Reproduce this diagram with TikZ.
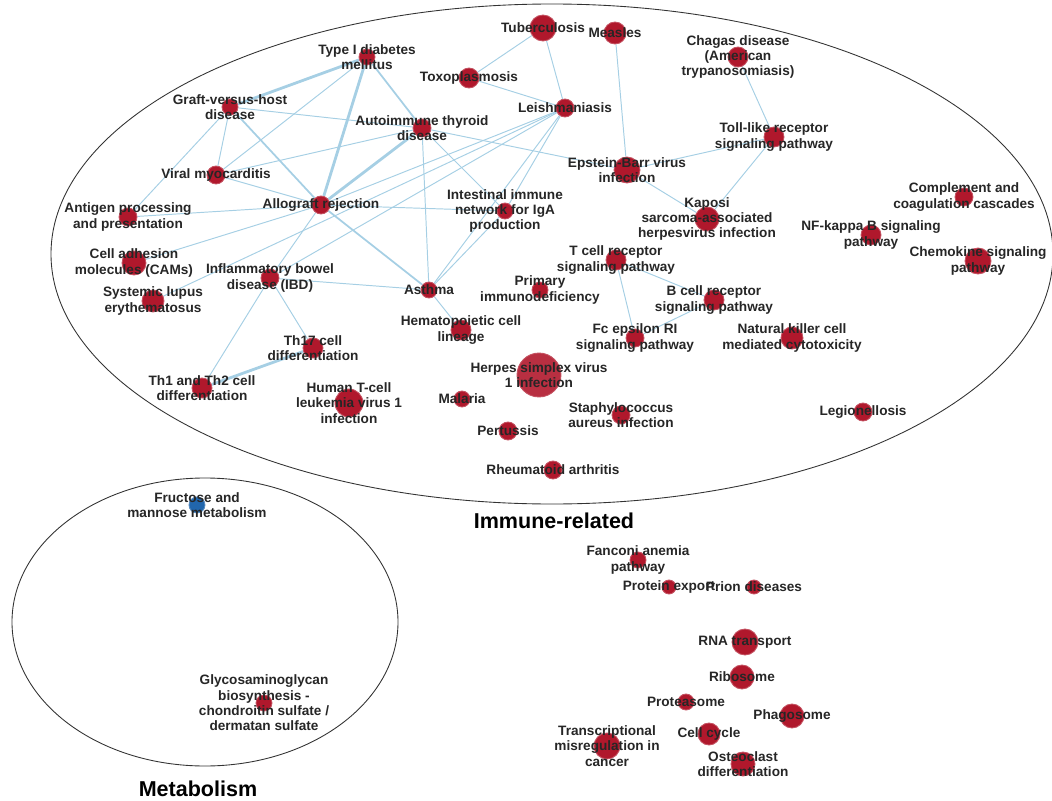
\documentclass[tikz,border=0pt]{standalone}
\usepackage{fontspec}
\setmainfont{Liberation Sans}
\usetikzlibrary{backgrounds}
\definecolor{pwred}{RGB}{176,24,44}
\definecolor{pwblue}{RGB}{33,102,172}
\definecolor{linkblue}{RGB}{166,207,228}
\definecolor{txtgray}{RGB}{38,38,38}

\tikzset{
  pw/.style = {circle, fill=pwred, draw=pwred!75!white, line width=0.5pt,
               inner sep=0pt, minimum size=#1*0.04cm},
  lbl/.style = {inner sep=0pt, align=center, text=txtgray,
                font=\bfseries\fontsize{7.75}{8.7}\selectfont},
  link/.style = {draw=linkblue, line width=0.55pt},
  midlink/.style = {draw=linkblue, line width=1pt},
  thicklink/.style = {draw=linkblue, line width=1.6pt},
  group/.style = {draw=black!80, line width=0.5pt},
  grouplbl/.style = {font=\bfseries\fontsize{12.25}{14}\selectfont, text=black}
}

\begin{document}
\begin{tikzpicture}[x=0.02cm, y=-0.02cm]
\useasboundingbox (0,0) rectangle (1052,801);

% groups
\draw[group] (552,254) ellipse [x radius=501, y radius=250];
\draw[group] (205,622) ellipse [x radius=193, y radius=144];
\node[grouplbl] (immune) at (554,521) {Immune-related};
\node[grouplbl] (metab) at (198,789) {Metabolism};

% immune-related pathways
\node[pw=8, label={[lbl]center:Type I diabetes\\mellitus}] (typeone) at (367,57) {};
\node[pw=8, label={[lbl]center:Graft-versus-host\\disease}] (gvhd) at (230,107) {};
\node[pw=9, label={[lbl]center:Autoimmune thyroid\\disease}] (aitd) at (422,128) {};
\node[pw=9, label={[lbl]center:Viral myocarditis}] (viralmyo) at (216,175) {};
\node[pw=9, label={[lbl]center:Allograft rejection}] (allograft) at (321,205) {};
\node[pw=9, label={[lbl]center:Antigen processing\\and presentation}] (antigen) at (128,217) {};
\node[pw=13, label={[lbl]center:Tuberculosis}] (tuberculosis) at (543,28) {};
\node[pw=11, label={[lbl]center:Measles}] (measles) at (615,33) {};
\node[pw=10, label={[lbl]center:Chagas disease\\(American\\trypanosomiasis)}] (chagas) at (738,57) {};
\node[pw=10, label={[lbl]center:Toxoplasmosis}] (toxo) at (469,78) {};
\node[pw=9, label={[lbl]center:Leishmaniasis}] (leish) at (565,108) {};
\node[pw=10, label={[lbl]center:Toll-like receptor\\signaling pathway}] (tlr) at (774,137) {};
\node[pw=13, label={[lbl]center:Epstein-Barr virus\\infection}] (ebv) at (627,170) {};
\node[pw=8, label={[lbl]center:Intestinal immune\\network for IgA\\production}] (iga) at (505,211) {};
\node[pw=12, label={[lbl]center:Kaposi\\sarcoma-associated\\herpesvirus infection}] (kshv) at (707,219) {};
\node[pw=12, label={[lbl]center:Cell adhesion\\molecules (CAMs)}] (cams) at (134,263) {};
\node[pw=9, label={[lbl]center:Inflammatory bowel\\disease (IBD)}] (ibd) at (270,278) {};
\node[pw=11, label={[lbl]center:Systemic lupus\\erythematosus}] (sle) at (153,301) {};
\node[pw=8, label={[lbl]center:Asthma}] (asthma) at (429,290) {};
\node[pw=10, label={[lbl]center:T cell receptor\\signaling pathway}] (tcr) at (616,260) {};
\node[pw=8, label={[lbl]center:Primary\\immunodeficiency}] (pid) at (540,290) {};
\node[pw=10, label={[lbl]center:B cell receptor\\signaling pathway}] (bcr) at (714,300) {};
\node[pw=10, label={[lbl]center:Hematopoietic cell\\lineage}] (hema) at (461,330) {};
\node[pw=9, label={[lbl]center:Fc epsilon RI\\signaling pathway}] (fceri) at (635,338) {};
\node[pw=10, label={[lbl]center:Th17 cell\\differentiation}] (thseventeen) at (313,348) {};
\node[pw=10, label={[lbl]center:Th1 and Th2 cell\\differentiation}] (thonetwo) at (202,388) {};
\node[pw=14, label={[lbl]center:Human T-cell\\leukemia virus 1\\infection}] (htlv) at (349,403) {};
\node[pw=22, fill opacity=0.9, label={[lbl]center:Herpes simplex virus\\1 infection}] (hsv) at (539,375) {};
\node[pw=8, label={[lbl]center:Malaria}] (malaria) at (462,399) {};
\node[pw=9, label={[lbl]center:Staphylococcus\\aureus infection}] (staph) at (621,415) {};
\node[pw=9, label={[lbl]center:Pertussis}] (pertussis) at (508,431) {};
\node[pw=9, label={[lbl]center:Rheumatoid arthritis}] (ra) at (553,470) {};
\node[pw=9, label={[lbl]center:Complement and\\coagulation cascades}] (complement) at (964,197) {};
\node[pw=10, label={[lbl]center:NF-kappa B signaling\\pathway}] (nfkb) at (871,235) {};
\node[pw=13, label={[lbl]center:Chemokine signaling\\pathway}] (chemokine) at (978,261) {};
\node[pw=11, label={[lbl]center:Natural killer cell\\mediated cytotoxicity}] (nk) at (792,338) {};
\node[pw=9, label={[lbl]center:Legionellosis}] (legionella) at (863,412) {};

% metabolism
\node[pw=8, fill=pwblue, draw=pwblue!75!white,
      label={[lbl]center:Fructose and\\mannose metabolism}] (fructose) at (197,505) {};
\node[pw=8, label={[lbl]center:Glycosaminoglycan\\biosynthesis -\\chondroitin sulfate /\\dermatan sulfate}] (gag) at (264,703) {};

% ungrouped
\node[pw=8, label={[lbl]center:Fanconi anemia\\pathway}] (fanconi) at (638,560) {};
\node[pw=7, label={[lbl]center:Protein export}] (protexport) at (669,587) {};
\node[pw=7, label={[lbl]center:Prion diseases}] (prion) at (754,587) {};
\node[pw=13, label={[lbl]center:RNA transport}] (rnatrans) at (745,642) {};
\node[pw=12, label={[lbl]center:Ribosome}] (ribosome) at (742,677) {};
\node[pw=8, label={[lbl]center:Proteasome}] (proteasome) at (686,702) {};
\node[pw=12, label={[lbl]center:Phagosome}] (phagosome) at (792,716) {};
\node[pw=11, label={[lbl]center:Cell cycle}] (cellcycle) at (709,734) {};
\node[pw=13, label={[lbl]center:Transcriptional\\misregulation in\\cancer}] (transmis) at (607,746) {};
\node[pw=12, label={[lbl]center:Osteoclast\\differentiation}] (osteoclast) at (743,764) {};

% links between pathways
\begin{pgfonlayer}{background}
\draw[thicklink] (typeone) -- (gvhd);
\draw[thicklink] (typeone) -- (allograft);
\draw[thicklink] (allograft) -- (aitd);
\draw[thicklink] (thseventeen) -- (thonetwo);
\draw[midlink] (gvhd) -- (allograft);
\draw[midlink] (allograft) -- (asthma);
\draw[midlink] (typeone) -- (aitd);
\draw[link] (typeone) -- (viralmyo);
\draw[link] (gvhd) -- (aitd);
\draw[link] (gvhd) -- (viralmyo);
\draw[link] (gvhd) -- (antigen);
\draw[link] (viralmyo) -- (allograft);
\draw[link] (viralmyo) -- (aitd);
\draw[link] (allograft) -- (antigen);
\draw[link] (allograft) -- (cams);
\draw[link] (allograft) -- (ibd);
\draw[link] (allograft) -- (iga);
\draw[link] (allograft) -- (leish);
\draw[link] (aitd) -- (iga);
\draw[link] (aitd) -- (asthma);
\draw[link] (aitd) -- (ebv);
\draw[link] (leish) -- (toxo);
\draw[link] (leish) -- (tuberculosis);
\draw[link] (toxo) -- (tuberculosis);
\draw[link] (leish) -- (ibd);
\draw[link] (leish) -- (sle);
\draw[link] (leish) -- (iga);
\draw[link] (leish) -- (asthma);
\draw[link] (iga) -- (asthma);
\draw[link] (ibd) -- (asthma);
\draw[link] (ibd) -- (thseventeen);
\draw[link] (ibd) -- (thonetwo);
\draw[link] (asthma) -- (hema);
\draw[link] (measles) -- (ebv);
\draw[link] (ebv) -- (tlr);
\draw[link] (ebv) -- (kshv);
\draw[link] (chagas) -- (tlr);
\draw[link] (tlr) -- (kshv);
\draw[link] (tcr) -- (bcr);
\draw[link] (tcr) -- (fceri);
\draw[link] (bcr) -- (fceri);
\end{pgfonlayer}
\end{tikzpicture}
\end{document}
